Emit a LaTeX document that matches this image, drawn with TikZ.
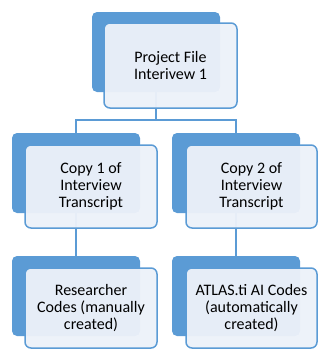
\documentclass[tikz,border=0pt]{standalone}
\usepackage{fontspec}
\setmainfont{Carlito}
\definecolor{sablue}{RGB}{91,155,213}
\definecolor{frontfill}{RGB}{236,241,249}
\begin{document}
\begin{tikzpicture}[x=1pt,y=-1pt,
  backbox/.style={draw=none,fill=sablue,rounded corners=5pt,minimum width=128pt,minimum height=80pt,inner sep=0pt},
  frontbox/.style={draw=sablue,line width=1.5pt,fill=frontfill,fill opacity=0.96,text opacity=1,rounded corners=6pt,inner sep=0pt,align=center,font=\fontsize{16}{17.3}\selectfont},
  link/.style={draw=sablue,line width=2pt}]
\useasboundingbox (0,0) rectangle (320,349);
% back boxes
\node[backbox] (d1) at (156,52) {};
\node[backbox] (d2) at (76,173) {};
\node[backbox] (d3) at (236,173) {};
\node[backbox] (d4) at (76,296) {};
\node[backbox] (d5) at (236,296) {};
% connectors
\coordinate (j) at (156,120);
\draw[link] (d1.south) -- (j);
\draw[link] (j) -| (d2.north);
\draw[link] (j) -| (d3.north);
\draw[link] (d2.south) -- (d4.north);
\draw[link] (d3.south) -- (d5.north);
% front boxes
\node[frontbox,minimum width=133pt,minimum height=85pt] (f1) at (170.5,65.5) {Project File\\Interivew 1};
\node[frontbox,minimum width=132pt,minimum height=83pt] (f2) at (91,186.5) {Copy 1 of\\Interview\\Transcript};
\node[frontbox,minimum width=131pt,minimum height=83pt] (f3) at (251.5,186.5) {Copy 2 of\\Interview\\Transcript};
\node[frontbox,minimum width=132pt,minimum height=80pt] (f4) at (91,308) {Researcher\\Codes (manually\\created)};
\node[frontbox,minimum width=131pt,minimum height=80pt] (f5) at (251.5,308) {ATLAS.ti AI Codes\\(automatically\\created)};
\end{tikzpicture}
\end{document}
